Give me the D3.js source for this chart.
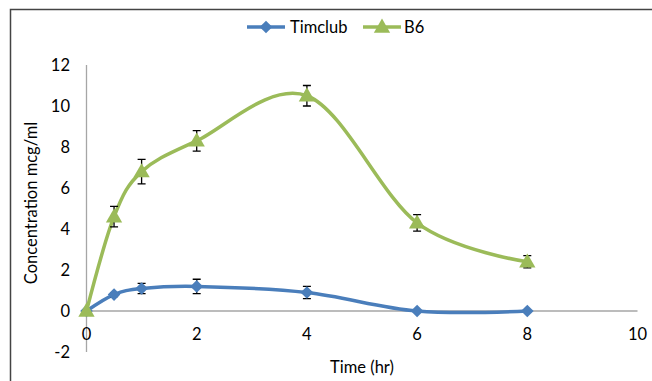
<!DOCTYPE html>
<html>
<head>
<meta charset="utf-8">
<script src="https://cdn.jsdelivr.net/npm/d3@7"></script>
<style>
  body { margin: 0; background: #fff; }
  svg { display: block; font-family: Lato, "Open Sans", sans-serif; }
</style>
</head>
<body>
<svg id="chart" width="652" height="381"></svg>
<script>
const times = [0, 0.5, 1, 2, 4, 6, 8];
const timclub = [0, 0.8, 1.1, 1.2, 0.9, 0, 0];
const timclubErr = [0, 0.1, 0.25, 0.35, 0.3, 0, 0];
const b6 = [0, 4.6, 6.8, 8.3, 10.5, 4.3, 2.4];
const b6Err = [0, 0.5, 0.6, 0.5, 0.5, 0.4, 0.3];
const xTicks = [0, 2, 4, 6, 8, 10];
const yTicks = [-2, 0, 2, 4, 6, 8, 10, 12];

const series = [
    { name: 'Timclub', values: timclub, err: timclubErr, color: '#4A7EBB', symbol: d3.symbolSquare, size: 80, rotate: 45, dy: 0 },
    { name: 'B6', values: b6, err: b6Err, color: '#9BBB59', symbol: d3.symbolTriangle, size: 115, rotate: 0, dy: 1 }
];

const svg = d3.select('#chart');

// outer frame
svg.append('path')
    .attr('d', 'M10.5,381 V9.5 H652')
    .attr('fill', 'none')
    .attr('stroke', '#444')
    .attr('stroke-width', 1.5);

const x = d3.scaleLinear().domain([0, 10]).range([86.5, 637.5]);
const y = d3.scaleLinear().domain([-2, 12]).range([352, 65]);

// axes
svg.append('line')
    .attr('x1', x(0)).attr('x2', x(10))
    .attr('y1', y(0)).attr('y2', y(0))
    .attr('stroke', '#a6a6a6').attr('stroke-width', 1.3);
svg.append('line')
    .attr('x1', x(0)).attr('x2', x(0))
    .attr('y1', y(12)).attr('y2', y(-2))
    .attr('stroke', '#a6a6a6').attr('stroke-width', 1.3);

svg.append('g').selectAll('text')
    .data(yTicks)
    .join('text')
    .attr('x', 70)
    .attr('y', d => y(d))
    .attr('dy', '0.35em')
    .attr('text-anchor', 'end')
    .attr('font-size', 16.5)
    .attr('fill', '#000')
    .text(d => d);

svg.append('g').selectAll('text')
    .data(xTicks)
    .join('text')
    .attr('x', d => x(d))
    .attr('y', y(0) + 23)
    .attr('dy', '0.35em')
    .attr('text-anchor', 'middle')
    .attr('font-size', 16.5)
    .attr('fill', '#000')
    .text(d => d);

svg.append('text')
    .attr('transform', 'translate(37,203) rotate(-90)')
    .attr('text-anchor', 'middle')
    .attr('font-size', 16.5)
    .text('Concentration mcg/ml');

svg.append('text')
    .attr('x', 362)
    .attr('y', 367)
    .attr('dy', '0.35em')
    .attr('text-anchor', 'middle')
    .attr('font-size', 16.5)
    .text('Time (hr)');

const line = d3.line()
    .x((d, i) => x(times[i]))
    .y(d => y(d))
    .curve(d3.curveCardinal.tension(0));

series.forEach(s => {
    svg.append('path')
        .datum(s.values)
        .attr('d', line)
        .attr('fill', 'none')
        .attr('stroke', s.color)
        .attr('stroke-width', 3.5);

    const g = svg.append('g');
    // error bars
    s.values.forEach((v, i) => {
        if (!s.err[i]) return;
        const cx = x(times[i]);
        const top = y(v + s.err[i]);
        const bot = y(v - s.err[i]);
        g.append('path')
            .attr('d', `M${cx},${top}V${bot}M${cx - 4},${top}H${cx + 4}M${cx - 4},${bot}H${cx + 4}`)
            .attr('stroke', '#000')
            .attr('stroke-width', 1.3)
            .attr('fill', 'none');
    });

    svg.append('g').selectAll('path')
        .data(s.values)
        .join('path')
        .attr('transform', (d, i) => `translate(${x(times[i])},${y(d) + s.dy}) rotate(${s.rotate})`)
        .attr('d', d3.symbol(s.symbol, s.size))
        .attr('fill', s.color);
});

// legend
const legendPos = [{ x0: 247, tx: 290 }, { x0: 363, tx: 404 }];
series.forEach((s, i) => {
    const p = legendPos[i];
    svg.append('line')
        .attr('x1', p.x0).attr('x2', p.x0 + 38)
        .attr('y1', 27).attr('y2', 27)
        .attr('stroke', s.color).attr('stroke-width', 3.5);
    svg.append('path')
        .attr('transform', `translate(${p.x0 + 19},${27 + s.dy}) rotate(${s.rotate})`)
        .attr('d', d3.symbol(s.symbol, s.size))
        .attr('fill', s.color);
    svg.append('text')
        .attr('x', p.tx)
        .attr('y', 27)
        .attr('dy', '0.35em')
        .attr('font-size', 16.5)
        .text(s.name);
});
</script>
</body>
</html>
